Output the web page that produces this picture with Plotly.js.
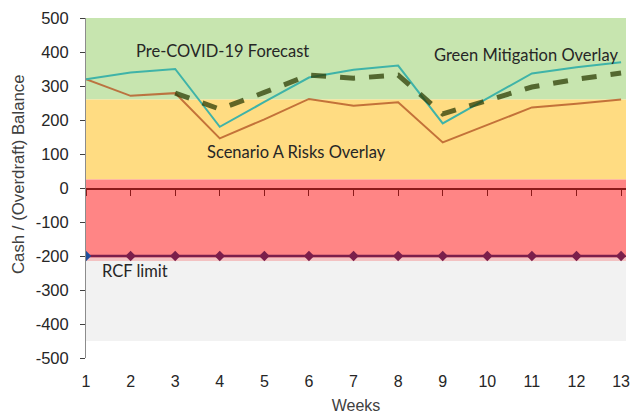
<!DOCTYPE html>
<html>
<head>
<meta charset="utf-8">
<script src="https://cdn.plot.ly/plotly-3.0.1.min.js"></script>
<style>html,body{margin:0;padding:0;background:#fff;}#chart{width:633px;height:414px;}</style>
</head>
<body>
<div id="chart"></div>
<script>
// ---- data ----
var weeks = [1,2,3,4,5,6,7,8,9,10,11,12,13];
var preCovid = [320,340,350,180,253,325,348,360,190,263,337,355,370];
var scenarioA = [320,271,279,146,202,262,242,252,134,186,237,248,260];
var greenMitigation = [null,null,279,232,281,332,323,332,218,258,297,320,338];
var rcfLimit = [-200,-200,-200,-200,-200,-200,-200,-200,-200,-200,-200,-200,-200];
var rcfMarkerColors = ['#1f4e9c','#7b1f4b','#7b1f4b','#7b1f4b','#7b1f4b','#7b1f4b','#7b1f4b','#7b1f4b','#7b1f4b','#7b1f4b','#7b1f4b','#7b1f4b','#7b1f4b'];

var yTickVals = [500,400,300,200,100,0,-100,-200,-300,-400,-500];
var yTickText = ['500','400','300','200','100','0','-100','-200','-300','-400','-500'];

// background zones (stacked overlay areas)
var bandLow  = [260, 25, -205, -215, -450];
var bandHigh = [500, 260, 25, -205, -215];
var bandColors = ['#c7e5af','#ffdc82','#ff8585','#f3c2c2','#f2f2f2'];

var labelText = ['Pre-COVID-19 Forecast','Green Mitigation Overlay','Scenario A Risks Overlay','RCF limit'];
var labelX = [4.05, 10.87, 5.72, 2.09];
var labelY = [403, 390, 106, -244];

var xRange = [1, 13.11];

var shapes = bandLow.map(function(lo, i){
  return {type:'rect', xref:'x', yref:'y', x0:xRange[0], x1:xRange[1], y0:lo, y1:bandHigh[i],
          fillcolor:bandColors[i], line:{width:0}, layer:'below'};
});

var traces = [
  {x:weeks, y:scenarioA, type:'scatter', mode:'lines', name:'Scenario A',
   line:{color:'rgba(185,95,45,0.85)', width:2}},
  {x:weeks, y:preCovid, type:'scatter', mode:'lines', name:'Pre-COVID-19',
   line:{color:'#3fb3a8', width:2}},
  {x:weeks, y:greenMitigation, type:'scatter', mode:'lines', name:'Green Mitigation',
   line:{color:'rgba(45,62,5,0.75)', width:5, dash:'15px,14px'}},
  {x:weeks, y:rcfLimit, type:'scatter', mode:'lines+markers', name:'RCF', xaxis:'x2',
   line:{color:'#7b1f4b', width:2.5},
   marker:{symbol:'diamond', size:8, color:rcfMarkerColors}}
];

var annotations = labelText.map(function(t, i){
  return {x:labelX[i], y:labelY[i], xref:'x', yref:'y', text:t, showarrow:false,
          font:{family:'Lato, Carlito, sans-serif', size:16.5, color:'#262626'}};
});
annotations.push({xref:'paper', yref:'paper', x:-0.126, y:0.541, xanchor:'center', yanchor:'middle',
  text:'Cash / (Overdraft) Balance', textangle:-90, showarrow:false,
  font:{family:'Liberation Sans, Arial, sans-serif', size:16.8, color:'#404040'}});

var layout = {
  width:633, height:414,
  margin:{l:86, r:7, t:18, b:56},
  paper_bgcolor:'#ffffff', plot_bgcolor:'#ffffff',
  showlegend:false,
  shapes:shapes,
  annotations:annotations,
  xaxis:{range:xRange, tick0:1, dtick:1, showgrid:false, zeroline:false, showline:false,
         ticks:'', ticklabelstandoff:12,
         tickfont:{family:'Liberation Sans, Arial, sans-serif', size:16, color:'#262626'},
         title:{text:'Weeks', standoff:10, font:{family:'Liberation Sans, Arial, sans-serif', size:16, color:'#404040'}}},
  xaxis2:{range:xRange, overlaying:'x', anchor:'free', position:0.5, tick0:1, dtick:1,
          showgrid:false, zeroline:false, showline:true, linecolor:'#8b1a1a', linewidth:1.5,
          ticks:'outside', ticklen:6, tickcolor:'#8b1a1a', tickwidth:1, showticklabels:false},
  yaxis:{range:[-500,500], tickmode:'array', tickvals:yTickVals, ticktext:yTickText,
         showgrid:false, zeroline:false, showline:true, ticklabelstandoff:8,
         linecolor:'#8c8c8c', linewidth:1, ticks:'outside', ticklen:5, tickcolor:'#404040',
         tickfont:{family:'Liberation Sans, Arial, sans-serif', size:16.5, color:'#262626'}}
};

Plotly.newPlot('chart', traces, layout, {displayModeBar:false, staticPlot:true});
</script>
</body>
</html>
